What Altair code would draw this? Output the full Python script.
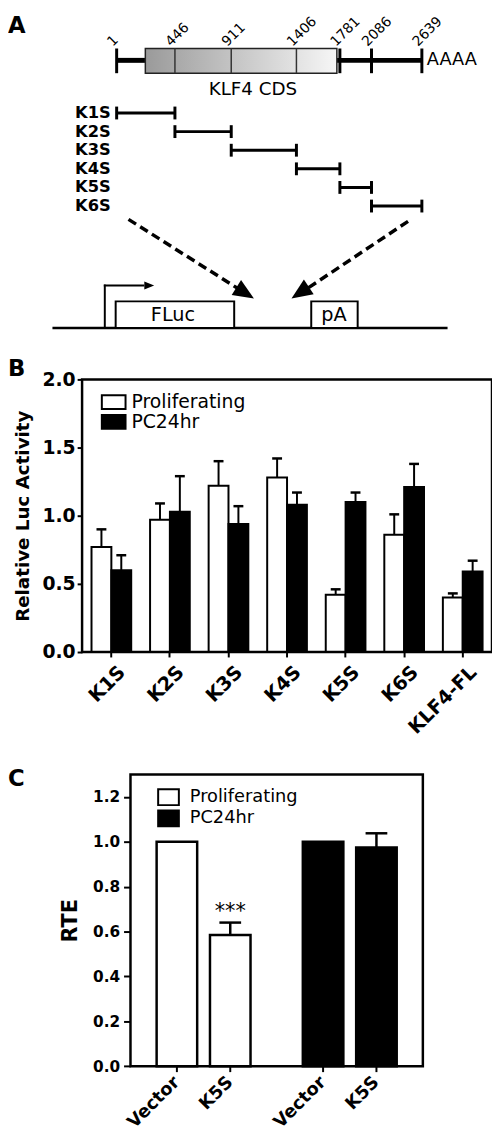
import altair as alt
import pandas as pd

# ======================= DATA =======================
# Panel A: KLF4 transcript map (nucleotide coordinates) and 3' fragments
map_nt = [1, 446, 911, 1406, 1781, 2086, 2639]
map_labels = ["1", "446", "911", "1406", "1781", "2086", "2639"]
cds_bounds = [220, 1755]
cds_dividers = [446, 911, 1406]
utr_ticks = [1, 1781, 2086, 2639]
frag_names = ["K1S", "K2S", "K3S", "K4S", "K5S", "K6S"]
frag_start = [1, 446, 911, 1406, 1781, 2086]
frag_end = [446, 911, 1406, 1781, 2086, 2639]
construct_parts = ["FLuc", "pA"]

# Panel B: relative luciferase activity
conditions = ["Proliferating", "PC24hr"]
constructs_b = ["K1S", "K2S", "K3S", "K4S", "K5S", "K6S", "KLF4-FL"]
prolif_mean = [0.77, 0.97, 1.22, 1.28, 0.42, 0.86, 0.40]
prolif_sem = [0.13, 0.12, 0.18, 0.14, 0.04, 0.15, 0.03]
pc24_mean = [0.60, 1.03, 0.94, 1.08, 1.10, 1.21, 0.59]
pc24_sem = [0.11, 0.26, 0.13, 0.09, 0.07, 0.17, 0.08]

# Panel C: RTE
constructs_c = ["Vector", "K5S"]
rte_prolif = [1.00, 0.585]
rte_prolif_sem = [0.0, 0.055]
rte_pc24 = [1.00, 0.975]
rte_pc24_sem = [0.0, 0.063]
rte_prolif_sig = ["", "***"]
rte_pc24_sig = ["", ""]

# ======================= LAYOUT (pixels, chart coords) =======================
W, H = 490, 1130
FONT = "DejaVu Sans"
MAP_PX = [110, 169, 226, 292, 336, 368, 419]     # schematic placement of map breakpoints
ROW_PX = [99.3, 193.5]
B_X, B_Y = [75, 490], [645, 369]
C_X, C_Y = [124, 420], [1064.3, 769]
one = pd.DataFrame({"k": [0]})

# ---------------- Panel A ----------------
nt_scale = alt.Scale(domain=map_nt, range=MAP_PX, zero=False, nice=False)
grad = alt.LinearGradient(
    gradient="linear",
    stops=[alt.GradientStop(color="#9a9a9a", offset=0), alt.GradientStop(color="#f6f6f6", offset=1)],
    x1=0, x2=1, y1=0, y2=0,
)
seg_df = pd.DataFrame({"start": [map_nt[0], cds_bounds[1]], "end": [cds_bounds[0], map_nt[-1]]})
cds_df = pd.DataFrame({"start": [cds_bounds[0]], "end": [cds_bounds[1]]})
div_df = pd.DataFrame({"nt": cds_dividers})
tick_df = pd.DataFrame({"nt": utr_ticks})
lab_df = pd.DataFrame({"nt": map_nt, "label": map_labels})

map_layer = alt.layer(
    alt.Chart(seg_df).mark_rule(strokeWidth=5, color="black").encode(
        x=alt.X("start:Q", scale=nt_scale, axis=None), x2="end:Q", y=alt.value(46)),
    alt.Chart(cds_df).mark_rect(fill=grad, stroke="#222222", strokeWidth=1.5).encode(
        x=alt.X("start:Q", scale=nt_scale, axis=None), x2="end:Q", y=alt.value(34), y2=alt.value(59)),
    alt.Chart(div_df).mark_rule(strokeWidth=1.5, color="#333333").encode(
        x=alt.X("nt:Q", scale=nt_scale, axis=None), y=alt.value(34), y2=alt.value(59)),
    alt.Chart(tick_df).mark_rule(strokeWidth=3, color="black").encode(
        x=alt.X("nt:Q", scale=nt_scale, axis=None), y=alt.value(34), y2=alt.value(59)),
    alt.Chart(lab_df).mark_text(angle=315, align="left", baseline="alphabetic", fontSize=14,
                                xOffset=-4, color="black").encode(
        x=alt.X("nt:Q", scale=nt_scale, axis=None), y=alt.value(32.5), text="label:N"),
    alt.Chart(one).mark_text(fontSize=18.5, align="center", baseline="alphabetic", color="black").encode(
        x=alt.value(248), y=alt.value(81), text=alt.value("KLF4 CDS")),
    alt.Chart(one).mark_text(fontSize=18, align="left", baseline="alphabetic", color="black").encode(
        x=alt.value(424), y=alt.value(51), text=alt.value("AAAA")),
)

frag_df = pd.DataFrame({"name": frag_names, "start": frag_start, "end": frag_end})
row_y = alt.Y("name:N", scale=alt.Scale(type="point", domain=frag_names, range=ROW_PX, padding=0), axis=None)
fb = alt.Chart(frag_df)
frag_layer = alt.layer(
    fb.mark_rule(strokeWidth=3, color="black").encode(
        x=alt.X("start:Q", scale=nt_scale, axis=None), x2="end:Q", y=row_y),
    fb.mark_tick(orient="vertical", size=13, thickness=3, color="black", opacity=1).encode(
        x=alt.X("start:Q", scale=nt_scale, axis=None), y=row_y),
    fb.mark_tick(orient="vertical", size=13, thickness=3, color="black", opacity=1).encode(
        x=alt.X("end:Q", scale=nt_scale, axis=None), y=row_y),
    fb.mark_text(align="right", baseline="middle", fontSize=16.5, fontWeight="bold", color="black").encode(
        x=alt.value(104), y=row_y, text="name:N"),
)

ARROW = "M0,0L-2,-0.85L-2,0.85Z"
SMALL_ARROW = "M0,0L-2,-0.8L-2,0.8Z"


def seg(x, y, x2, y2, **kw):
    return alt.Chart(one).mark_rule(color="black", **kw).encode(
        x=alt.value(x), y=alt.value(y), x2=alt.value(x2), y2=alt.value(y2))


def head(x, y, ang, shape, size):
    return alt.Chart(one).mark_point(shape=shape, size=size, angle=ang, filled=True,
                                     color="black", opacity=1).encode(x=alt.value(x), y=alt.value(y))


def box(x0, x1, label, tx):
    return alt.layer(
        alt.Chart(one).mark_rect(fill="white", stroke="black", strokeWidth=2).encode(
            x=alt.value(x0), x2=alt.value(x1), y=alt.value(290), y2=alt.value(317)),
        alt.Chart(one).mark_text(fontSize=19.5, align="center", baseline="alphabetic", color="black").encode(
            x=alt.value(tx), y=alt.value(310), text=alt.value(label)),
    )


construct_layer = alt.layer(
    seg(122, 207, 236, 279, strokeWidth=3.5, strokeDash=[9, 5]),
    head(249, 287, 32, ARROW, 441),
    seg(405, 209, 300, 279, strokeWidth=3.5, strokeDash=[9, 5]),
    head(287, 287, 146.5, ARROW, 441),
    seg(45, 317, 445, 317, strokeWidth=2.5),
    seg(98, 317, 98, 273, strokeWidth=2),
    seg(97, 274, 138, 274, strokeWidth=2),
    head(148, 274, 0, SMALL_ARROW, 100),
    box(109, 229, construct_parts[0], 167),
    box(307, 354, construct_parts[1], 330),
    alt.Chart(one).mark_text(fontSize=23, fontWeight="bold", align="left", baseline="top", color="black").encode(
        x=alt.value(0), y=alt.value(0), text=alt.value("A")),
    alt.Chart(one).mark_text(fontSize=23, fontWeight="bold", align="left", baseline="top", color="black").encode(
        x=alt.value(0), y=alt.value(348), text=alt.value("B")),
    alt.Chart(one).mark_text(fontSize=23, fontWeight="bold", align="left", baseline="top", color="black").encode(
        x=alt.value(0), y=alt.value(763), text=alt.value("C")),
)

# ---------------- Panel B ----------------
b_df = pd.DataFrame({
    "construct": constructs_b * 2,
    "cond": [conditions[0]] * len(constructs_b) + [conditions[1]] * len(constructs_b),
    "mean": prolif_mean + pc24_mean,
    "sem": prolif_sem + pc24_sem,
})
b_df["top"] = b_df["mean"] + b_df["sem"]

fill_scale = alt.Scale(domain=conditions, range=["white", "black"])
bx = alt.X("construct:N", sort=None,
           scale=alt.Scale(domain=constructs_b, range=B_X, paddingInner=0, paddingOuter=0),
           axis=alt.Axis(orient="bottom", offset=B_Y[0] - H, title=None, domain=False, grid=False,
                         ticks=True, tickSize=5, tickWidth=2, tickColor="black",
                         labelAngle=315, labelAlign="right", labelBaseline="middle",
                         labelOffset=11, labelPadding=12, labelFontSize=19.5, labelFontWeight="bold",
                         labelColor="black", labelFont=FONT))
bxo = alt.XOffset("cond:N", sort=None, scale=alt.Scale(domain=conditions, paddingInner=0, paddingOuter=0.475))
b_axis_y = alt.Axis(orient="left", offset=-B_X[0], values=[0, 0.5, 1.0, 1.5, 2.0], format=".1f",
                    title="Relative Luc Activity", titleFontSize=18.5, titleFontWeight="bold",
                    titleColor="black", titlePadding=10, titleFont=FONT,
                    domain=False, grid=False, tickSize=5, tickWidth=2, tickColor="black",
                    labelPadding=2, labelFontSize=19, labelFontWeight="bold", labelColor="black", labelFont=FONT)
b_yscale = alt.Scale(domain=[0, 2], range=B_Y, nice=False)
by = alt.Y("mean:Q", scale=b_yscale, axis=b_axis_y, title="Relative Luc Activity")
by_top = alt.Y("top:Q", scale=b_yscale, axis=b_axis_y, title="Relative Luc Activity")

bb = alt.Chart(b_df)
b_layer = alt.layer(
    bb.mark_bar(stroke="black", strokeWidth=2).encode(
        x=bx, xOffset=bxo, y=by, fill=alt.Fill("cond:N", scale=fill_scale, legend=None)),
    bb.mark_rule(strokeWidth=2, color="black").encode(x=bx, xOffset=bxo, y=by, y2="top:Q"),
    bb.mark_tick(orient="horizontal", size=10, thickness=2.5, color="black", opacity=1).encode(
        x=bx, xOffset=bxo, y=by_top),
    alt.Chart(one).mark_rect(fillOpacity=0, stroke="black", strokeWidth=2.5).encode(
        x=alt.value(B_X[0]), x2=alt.value(B_X[1]), y=alt.value(B_Y[1]), y2=alt.value(B_Y[0])),
)

leg_df = pd.DataFrame({"cond": conditions})
b_leg_y = alt.Y("cond:N", scale=alt.Scale(type="point", domain=conditions, range=[392, 412], padding=0), axis=None)
b_legend = alt.layer(
    alt.Chart(leg_df).mark_point(shape="M-1.714,-1L1.714,-1L1.714,1L-1.714,1Z", size=196, filled=True,
                                 stroke="black", strokeWidth=2, opacity=1).encode(
        x=alt.value(107), y=b_leg_y, fill=alt.Fill("cond:N", scale=fill_scale, legend=None)),
    alt.Chart(leg_df).mark_text(align="left", baseline="middle", fontSize=19, color="black").encode(
        x=alt.value(125), y=b_leg_y, text="cond:N"),
)

# ---------------- Panel C ----------------
c_df = pd.DataFrame({
    "cond": [conditions[0]] * 2 + [conditions[1]] * 2,
    "construct": constructs_c * 2,
    "mean": rte_prolif + rte_pc24,
    "sem": rte_prolif_sem + rte_pc24_sem,
    "sig": rte_prolif_sig + rte_pc24_sig,
})
c_df["top"] = c_df["mean"] + c_df["sem"]

cx = alt.X("cond:N", sort=None, scale=alt.Scale(domain=conditions, range=C_X, paddingInner=0, paddingOuter=0),
           axis=None)
cxo = alt.XOffset("construct:N", sort=None,
                  scale=alt.Scale(domain=constructs_c, paddingInner=0.24, paddingOuter=0.49))
c_axis_y = alt.Axis(orient="left", offset=-C_X[0], values=[0, 0.2, 0.4, 0.6, 0.8, 1.0, 1.2], format=".1f",
                    title="RTE", titleFontSize=21, titleFontWeight="bold", titleColor="black",
                    titlePadding=12, titleFont=FONT,
                    domain=False, grid=False, tickSize=7, tickWidth=2, tickColor="black",
                    labelPadding=4, labelFontSize=15.5, labelFontWeight="bold", labelColor="black", labelFont=FONT)
c_yscale = alt.Scale(domain=[0, 1.3], range=C_Y, nice=False)
cy = alt.Y("mean:Q", scale=c_yscale, axis=c_axis_y, title="RTE")
cy_top = alt.Y("top:Q", scale=c_yscale, axis=c_axis_y, title="RTE")

cb = alt.Chart(c_df)
c_layer = alt.layer(
    cb.mark_tick(orient="vertical", size=12, thickness=2, color="black", opacity=1).encode(
        x=cx, xOffset=cxo, y=alt.value(C_Y[0])),
    cb.mark_bar(stroke="black", strokeWidth=2.5).encode(
        x=cx, xOffset=cxo, y=cy, fill=alt.Fill("cond:N", scale=fill_scale, legend=None)),
    cb.transform_filter("datum.sem > 0").mark_rule(strokeWidth=2.5, color="black").encode(
        x=cx, xOffset=cxo, y=cy, y2="top:Q"),
    cb.transform_filter("datum.sem > 0").mark_tick(orient="horizontal", size=22, thickness=2.5,
                                                   color="black", opacity=1).encode(
        x=cx, xOffset=cxo, y=cy_top),
    cb.transform_filter("datum.sig != ''").mark_text(fontSize=21, baseline="alphabetic", dy=-5,
                                                      color="black").encode(
        x=cx, xOffset=cxo, y=cy_top, text="sig:N"),
    cb.mark_text(angle=315, align="right", baseline="middle", fontSize=18, fontWeight="bold",
                 color="black").encode(
        x=cx, xOffset=cxo, y=alt.value(1078), text="construct:N"),
    alt.Chart(one).mark_rect(fillOpacity=0, stroke="black", strokeWidth=2.5).encode(
        x=alt.value(C_X[0]), x2=alt.value(C_X[1]), y=alt.value(C_Y[1]), y2=alt.value(C_Y[0])),
)

c_leg_y = alt.Y("cond:N", scale=alt.Scale(type="point", domain=conditions, range=[792, 813.5], padding=0),
                axis=None)
c_legend = alt.layer(
    alt.Chart(leg_df).mark_point(shape="M-1.31,-1L1.31,-1L1.31,1L-1.31,1Z", size=256, filled=True,
                                 stroke="black", strokeWidth=2, opacity=1).encode(
        x=alt.value(162.5), y=c_leg_y, fill=alt.Fill("cond:N", scale=fill_scale, legend=None)),
    alt.Chart(leg_df).mark_text(align="left", baseline="middle", fontSize=18, color="black").encode(
        x=alt.value(184), y=c_leg_y, text="cond:N"),
)

chart = (
    alt.layer(map_layer, frag_layer, construct_layer, b_layer, b_legend, c_layer, c_legend)
    .resolve_scale(x="independent", y="independent", xOffset="independent", fill="independent")
    .properties(width=W, height=H, padding=0, autosize=alt.AutoSizeParams(type="none"))
    .configure(font=FONT)
    .configure_view(stroke=None)
)

chart.save("out.html", embed_options={"renderer": "svg", "actions": False})
